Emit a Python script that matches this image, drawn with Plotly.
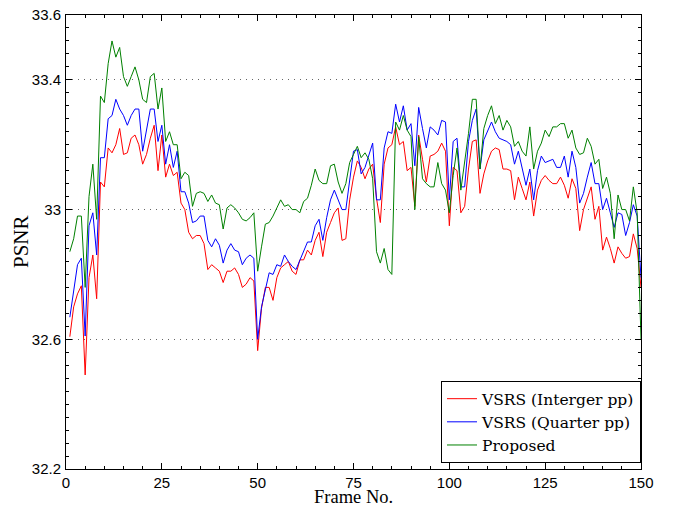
import plotly.graph_objects as go

frames = list(range(1, 151))

vsrs_integer = [
    32.608, 32.70, 32.74, 32.765, 32.49, 32.79, 32.86, 32.725, 33.085, 33.07,
    33.19, 33.175, 33.20, 33.25, 33.17, 33.175, 33.22, 33.23, 33.20, 33.14,
    33.17, 33.22, 33.26, 33.12, 33.23, 33.10, 33.14, 33.105, 33.115, 33.02,
    33.00, 32.93, 32.91, 32.92, 32.92, 32.895, 32.815, 32.83, 32.82, 32.81,
    32.775, 32.81, 32.81, 32.82, 32.80, 32.76, 32.77, 32.79, 32.78, 32.565,
    32.695, 32.76, 32.76, 32.72, 32.79, 32.82, 32.83, 32.84, 32.81, 32.80,
    32.845, 32.845, 32.875, 32.86, 32.905, 32.93, 32.855, 32.93, 32.96, 32.99,
    33.005, 32.905, 32.91, 33.03, 33.10, 33.15, 33.13, 33.095, 33.125, 33.14,
    33.035, 32.96, 33.14, 33.19, 33.20, 33.255, 33.20, 33.21, 33.12, 33.13,
    33.01, 33.23, 33.155, 33.085, 33.165, 33.17, 33.18, 33.205, 33.18, 32.95,
    33.13, 33.12, 32.99, 33.01, 33.125, 33.21, 33.215, 33.05, 33.11, 33.15,
    33.18, 33.19, 33.185, 33.125, 33.125, 33.12, 33.03, 33.10, 33.065, 33.03,
    33.085, 32.98, 33.06, 33.09, 33.105, 33.09, 33.08, 33.08, 33.10, 33.075,
    33.035, 33.095, 33.065, 32.935, 33.00, 33.035, 33.07, 32.97, 33.01, 32.875,
    32.915, 32.88, 32.835, 32.885, 32.865, 32.85, 32.855, 32.925, 32.88, 32.76,
]

vsrs_quarter = [
    32.668, 32.75, 32.83, 32.85, 32.61, 32.95, 32.99, 32.86, 33.16, 33.16,
    33.28, 33.29, 33.34, 33.31, 33.29, 33.26, 33.29, 33.31, 33.31, 33.18,
    33.25, 33.31, 33.31, 33.21, 33.26, 33.14, 33.20, 33.13, 33.18, 33.055,
    33.055, 33.02, 32.96, 32.965, 32.98, 32.98, 32.905, 32.885, 32.91, 32.89,
    32.835, 32.875, 32.895, 32.875, 32.87, 32.83, 32.85, 32.86, 32.85, 32.60,
    32.70, 32.75, 32.805, 32.80, 32.83, 32.825, 32.86, 32.84, 32.825, 32.815,
    32.845, 32.87, 32.90, 32.90, 32.95, 32.97, 32.905, 32.975, 33.03, 33.06,
    33.03, 33.00, 33.00, 33.085, 33.18, 33.185, 33.11, 33.13, 33.17, 33.205,
    33.03, 33.03, 33.19, 33.24, 33.235, 33.325, 33.27, 33.32, 33.245, 33.265,
    33.135, 33.315, 33.25, 33.19, 33.255, 33.245, 33.23, 33.275, 33.27, 33.03,
    33.21, 33.22, 33.07, 33.07, 33.21, 33.275, 33.31, 33.125, 33.215, 33.24,
    33.27, 33.24, 33.22, 33.215, 33.21, 33.20, 33.14, 33.18, 33.125, 33.075,
    33.125, 33.03, 33.12, 33.165, 33.145, 33.15, 33.155, 33.13, 33.13, 33.165,
    33.10, 33.18, 33.13, 33.02, 33.05, 33.10, 33.145, 33.08, 33.08, 33.00,
    33.035, 32.99, 32.945, 32.99, 32.985, 32.92, 32.96, 33.015, 32.98, 32.79,
]

proposed = [
    32.87, 32.91, 32.98, 32.98, 32.76, 33.04, 33.14, 32.97, 33.35, 33.33,
    33.45, 33.52, 33.47, 33.50, 33.41, 33.38, 33.41, 33.44, 33.40, 33.34,
    33.33, 33.41, 33.42, 33.31, 33.375, 33.21, 33.24, 33.20, 33.20, 33.095,
    33.115, 33.105, 33.01, 33.05, 33.055, 33.05, 33.025, 33.045, 33.02, 33.015,
    32.94, 33.005, 33.015, 33.005, 32.99, 32.97, 32.965, 32.975, 32.99, 32.81,
    32.885, 32.955, 32.96, 32.98, 33.005, 33.03, 33.01, 33.015, 33.00, 33.00,
    32.99, 33.025, 33.035, 33.075, 33.125, 33.09, 33.08, 33.08, 33.135, 33.14,
    33.085, 33.05, 33.08, 33.145, 33.17, 33.195, 33.16, 33.175, 33.155, 33.095,
    32.87, 32.835, 32.88, 32.815, 32.80, 33.27, 33.245, 33.29, 33.245, 33.225,
    33.00, 33.225, 33.095, 33.08, 33.07, 33.07, 33.145, 33.08, 33.06, 32.99,
    33.105, 33.19, 33.06, 33.14, 33.235, 33.34, 33.34, 33.125, 33.25, 33.29,
    33.32, 33.265, 33.29, 33.245, 33.275, 33.255, 33.195, 33.21, 33.18, 33.165,
    33.255, 33.125, 33.18, 33.205, 33.245, 33.225, 33.255, 33.255, 33.265, 33.265,
    33.22, 33.245, 33.19, 33.17, 33.175, 33.22, 33.195, 33.14, 33.155, 33.065,
    33.10, 33.05, 32.91, 33.045, 33.00, 33.00, 32.965, 33.07, 32.99, 32.60,
]

series_names = ["VSRS (Interger pp)", "VSRS (Quarter pp)", "Proposed"]
series_colors = ["#ff0000", "#0000ff", "#008000"]

x_tickvals = [0, 25, 50, 75, 100, 125, 150]
y_tickvals = [32.2, 32.6, 33.0, 33.4, 33.6]
y_ticktext = ["32.2", "32.6", "33", "33.4", "33.6"]

fig = go.Figure()
for name, vals, col in zip(series_names, [vsrs_integer, vsrs_quarter, proposed], series_colors):
    fig.add_trace(go.Scatter(x=frames, y=vals, mode="lines", name=name,
                             line=dict(color=col, width=1)))

tick_font = dict(family="Liberation Sans, Arial, sans-serif", size=15, color="black")
serif = "Liberation Serif, Times New Roman, serif"
legend_serif = "DejaVu Serif, serif"

fig.update_layout(
    width=674, height=508,
    margin=dict(l=66, r=33, t=15, b=39),
    paper_bgcolor="white", plot_bgcolor="white",
    showlegend=True,
    legend=dict(x=1, xanchor="right", y=0.013, yanchor="bottom",
                bordercolor="black", borderwidth=1, bgcolor="white",
                font=dict(family=legend_serif, size=15.5, color="black"),
                tracegroupgap=0),
    xaxis=dict(range=[0, 150], tickvals=x_tickvals, ticks="inside", ticklen=6,
               tickcolor="black", showline=True, linecolor="black", linewidth=1,
               mirror="allticks", showgrid=False, zeroline=False, automargin=False,
               tickfont=tick_font, ticklabelstandoff=0,
               minor=dict(ticks="inside", ticklen=3, dtick=5, tick0=0,
                          tickcolor="black", showgrid=False)),
    yaxis=dict(range=[32.2, 33.6], tickvals=y_tickvals, ticktext=y_ticktext,
               ticks="inside", ticklen=6, tickcolor="black", showline=True,
               linecolor="black", linewidth=1, mirror="allticks", zeroline=False,
               showgrid=True, gridcolor="#666666", gridwidth=1, griddash="1px,5px",
               tickfont=tick_font, ticklabelstandoff=1, automargin=False,
               minor=dict(ticks="inside", ticklen=3, dtick=0.04, tick0=32.2,
                          tickcolor="black", showgrid=False)),
    annotations=[
        dict(text="PSNR", xref="paper", yref="paper", x=0, y=0.5,
             xanchor="center", yanchor="middle", xshift=-45, textangle=-90,
             showarrow=False, font=dict(family=serif, size=21, color="black")),
        dict(text="Frame No.", xref="paper", yref="paper", x=0.5, y=0,
             xanchor="center", yanchor="middle", yshift=-27.5,
             showarrow=False, font=dict(family=serif, size=18.5, color="black")),
    ],
)

fig.write_html("out.html", config={"displayModeBar": False},
               post_script="document.body.style.margin='0';")
